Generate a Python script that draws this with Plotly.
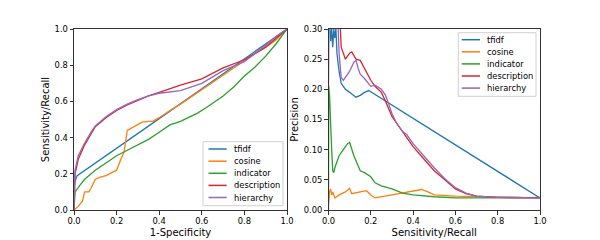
import plotly.graph_objects as go

names = ["tfidf", "cosine", "indicator", "description", "hierarchy"]
colors = ["#1f77b4", "#ff7f0e", "#2ca02c", "#d62728", "#9467bd"]

# ROC curves: (1-specificity, sensitivity)
roc_tfidf_x = [0, 0.002, 0.015, 0.2, 0.4, 0.6, 0.8, 0.9, 1.0]
roc_tfidf_y = [0, 0.15, 0.19, 0.34, 0.505, 0.67, 0.835, 0.915, 1.0]
roc_cosine_x = [0, 0.02, 0.04, 0.05, 0.07, 0.08, 0.1, 0.12, 0.15, 0.2, 0.22, 0.235, 0.25, 0.28, 0.3, 0.32, 0.35, 0.37, 0.4, 0.45, 0.5, 0.6, 0.7, 0.8, 0.9, 0.95, 1.0]
roc_cosine_y = [0, 0.02, 0.05, 0.1, 0.1, 0.12, 0.17, 0.18, 0.19, 0.22, 0.28, 0.32, 0.44, 0.46, 0.47, 0.485, 0.49, 0.49, 0.51, 0.55, 0.585, 0.665, 0.745, 0.825, 0.9, 0.94, 1.0]
roc_indicator_x = [0, 0.005, 0.03, 0.05, 0.1, 0.15, 0.2, 0.25, 0.3, 0.35, 0.4, 0.45, 0.5, 0.58, 0.62, 0.7, 0.75, 0.8, 0.85, 0.9, 0.95, 1.0]
roc_indicator_y = [0, 0.1, 0.14, 0.17, 0.22, 0.26, 0.3, 0.33, 0.36, 0.39, 0.43, 0.47, 0.49, 0.535, 0.565, 0.63, 0.68, 0.74, 0.79, 0.85, 0.92, 1.0]
roc_description_x = [0, 0.005, 0.02, 0.05, 0.08, 0.1, 0.15, 0.2, 0.25, 0.3, 0.35, 0.4, 0.5, 0.6, 0.7, 0.8, 0.9, 1.0]
roc_description_y = [0, 0.2, 0.28, 0.36, 0.42, 0.46, 0.51, 0.55, 0.58, 0.605, 0.63, 0.65, 0.69, 0.725, 0.785, 0.83, 0.9, 1.0]
roc_hierarchy_x = [0, 0.005, 0.02, 0.05, 0.08, 0.1, 0.15, 0.2, 0.25, 0.3, 0.35, 0.4, 0.5, 0.6, 0.7, 0.8, 0.9, 0.95, 1.0]
roc_hierarchy_y = [0, 0.22, 0.3, 0.37, 0.43, 0.465, 0.515, 0.555, 0.585, 0.61, 0.63, 0.645, 0.66, 0.7, 0.77, 0.82, 0.91, 0.96, 1.0]

# PR curves: (recall, precision)
pr_tfidf_x = [0, 0.005, 0.01, 0.015, 0.02, 0.025, 0.03, 0.035, 0.04, 0.05, 0.06, 0.07, 0.08, 0.1, 0.12, 0.13, 0.15, 0.17, 0.19, 1.0]
pr_tfidf_y = [0.35, 0.3, 0.28, 0.3, 0.27, 0.3, 0.285, 0.3, 0.26, 0.23, 0.21, 0.205, 0.2, 0.195, 0.19, 0.187, 0.19, 0.195, 0.198, 0.02]
pr_cosine_x = [0, 0.005, 0.01, 0.015, 0.02, 0.03, 0.05, 0.08, 0.1, 0.11, 0.15, 0.18, 0.2, 0.22, 0.3, 0.4, 0.44, 0.47, 0.5, 0.6, 0.7, 0.8, 1.0]
pr_cosine_y = [0.01, 0.03, 0.035, 0.025, 0.03, 0.02, 0.025, 0.03, 0.036, 0.027, 0.03, 0.032, 0.025, 0.02, 0.025, 0.031, 0.034, 0.03, 0.025, 0.023, 0.022, 0.021, 0.02]
pr_indicator_x = [0, 0.001, 0.005, 0.01, 0.015, 0.02, 0.025, 0.03, 0.05, 0.07, 0.09, 0.1, 0.12, 0.15, 0.17, 0.2, 0.22, 0.25, 0.3, 0.35, 0.4, 0.5, 0.6, 0.8, 1.0]
pr_indicator_y = [0, 0.205, 0.19, 0.12, 0.1, 0.065, 0.062, 0.07, 0.09, 0.1, 0.11, 0.112, 0.09, 0.065, 0.062, 0.055, 0.045, 0.04, 0.035, 0.028, 0.025, 0.022, 0.02, 0.02, 0.021]
pr_description_x = [0.05, 0.06, 0.07, 0.08, 0.09, 0.1, 0.11, 0.12, 0.13, 0.15, 0.17, 0.19, 0.2, 0.22, 0.25, 0.27, 0.3, 0.35, 0.4, 0.45, 0.5, 0.55, 0.6, 0.65, 0.7, 0.8, 0.9, 1.0]
pr_description_y = [0.35, 0.27, 0.26, 0.25, 0.255, 0.26, 0.262, 0.255, 0.25, 0.248, 0.235, 0.22, 0.215, 0.205, 0.195, 0.18, 0.155, 0.13, 0.105, 0.085, 0.065, 0.05, 0.035, 0.027, 0.023, 0.021, 0.02, 0.02]
pr_hierarchy_x = [0, 0.002, 0.04, 0.05, 0.06, 0.07, 0.08, 0.1, 0.12, 0.13, 0.14, 0.15, 0.17, 0.19, 0.2, 0.22, 0.25, 0.27, 0.3, 0.32, 0.35, 0.37, 0.4, 0.45, 0.5, 0.55, 0.6, 0.65, 0.7, 0.8, 0.9, 1.0]
pr_hierarchy_y = [0.2, 0.3, 0.35, 0.26, 0.22, 0.215, 0.22, 0.23, 0.245, 0.248, 0.235, 0.225, 0.218, 0.21, 0.205, 0.207, 0.2, 0.19, 0.16, 0.145, 0.13, 0.125, 0.11, 0.09, 0.07, 0.052, 0.037, 0.028, 0.023, 0.021, 0.02, 0.02]

roc_data = [(roc_tfidf_x, roc_tfidf_y), (roc_cosine_x, roc_cosine_y), (roc_indicator_x, roc_indicator_y),
            (roc_description_x, roc_description_y), (roc_hierarchy_x, roc_hierarchy_y)]
pr_data = [(pr_tfidf_x, pr_tfidf_y), (pr_cosine_x, pr_cosine_y), (pr_indicator_x, pr_indicator_y),
           (pr_description_x, pr_description_y), (pr_hierarchy_x, pr_hierarchy_y)]

FONT = "DejaVu Sans"
W, H = 600, 240
OFF = 8  # default page body margin


def px(x):
    return (x - OFF) / W


def py(y):
    return 1 - (y - OFF) / H


fig = go.Figure()
for n, c, (x, y) in zip(names, colors, roc_data):
    fig.add_trace(go.Scatter(x=x, y=y, mode="lines", name=n, line=dict(color=c, width=1.3),
                             xaxis="x", yaxis="y", showlegend=False))
for n, c, (x, y) in zip(names, colors, pr_data):
    fig.add_trace(go.Scatter(x=x, y=y, mode="lines", name=n, line=dict(color=c, width=1.3),
                             xaxis="x2", yaxis="y2", showlegend=False))

# legends drawn like matplotlib's (compact rows)
shapes, annotations = [], []


def add_legend(box, line_x0, line_x1, text_x, rows):
    x0, y0, x1, y1 = box
    shapes.append(dict(type="rect", xref="paper", yref="paper", x0=px(x0), x1=px(x1), y0=py(y1), y1=py(y0),
                       line=dict(color="#d0d0d0", width=1), fillcolor="rgba(255,255,255,0.85)", layer="above"))
    for n, c, yy in zip(names, colors, rows):
        shapes.append(dict(type="line", xref="paper", yref="paper", x0=px(line_x0), x1=px(line_x1),
                           y0=py(yy), y1=py(yy), line=dict(color=c, width=1.5), layer="above"))
        annotations.append(dict(text=n, xref="paper", yref="paper", x=px(text_x), y=py(yy), xanchor="left",
                                yanchor="middle", showarrow=False, font=dict(size=8.33, family=FONT, color="black")))


add_legend((203, 141.7, 283, 205.7), 208.5, 226.7, 231.5, [149, 161.2, 173.3, 185.4, 197.5])
add_legend((458.3, 32.7, 536, 96.3), 461.7, 480, 485, [39.7, 51.8, 63.9, 76, 88.1])

ax = dict(showline=True, mirror=True, linecolor="#333333", linewidth=1, ticks="outside", ticklen=3.5,
          tickcolor="#333333", showgrid=False, zeroline=False,
          tickfont=dict(size=8.33, family=FONT, color="black"), automargin=False)
ydom = [py(210), py(29)]
fig.update_layout(
    width=W, height=H, margin=dict(l=0, r=0, t=0, b=0),
    plot_bgcolor="white", paper_bgcolor="white",
    font=dict(family=FONT, color="black"),
    showlegend=False,
    shapes=shapes, annotations=annotations,
    xaxis=dict(ax, domain=[px(74), px(287)], range=[0, 1], tickvals=[0, 0.2, 0.4, 0.6, 0.8, 1.0], tickformat=".1f",
               title=dict(text="1-Specificity", font=dict(size=10), standoff=3), anchor="y"),
    yaxis=dict(ax, domain=ydom, range=[0, 1], tickvals=[0, 0.2, 0.4, 0.6, 0.8, 1.0], tickformat=".1f",
               title=dict(text="Sensitivity/Recall", font=dict(size=10), standoff=3), anchor="x"),
    xaxis2=dict(ax, domain=[px(328.5), px(540)], range=[0, 1], tickvals=[0, 0.2, 0.4, 0.6, 0.8, 1.0], tickformat=".1f",
                title=dict(text="Sensitivity/Recall", font=dict(size=10), standoff=3), anchor="y2"),
    yaxis2=dict(ax, domain=ydom, range=[0, 0.3], tickvals=[0, 0.05, 0.1, 0.15, 0.2, 0.25, 0.3], tickformat=".2f",
                title=dict(text="Precision", font=dict(size=10), standoff=3), anchor="x2"),
)
fig.write_html("out.html")
